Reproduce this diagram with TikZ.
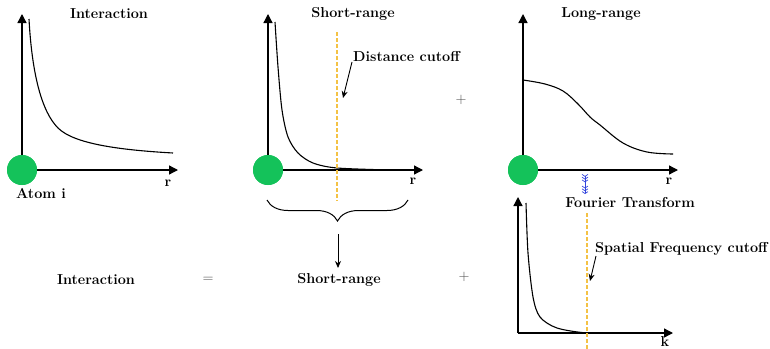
\documentclass[tikz,border=0pt]{standalone}
\usetikzlibrary{arrows.meta,decorations.pathreplacing}
\definecolor{atomgreen}{HTML}{14C25A}
\definecolor{cutorange}{HTML}{F4C245}
\definecolor{ftblue}{HTML}{3344DD}
\tikzset{
  lbl/.style={font=\fontsize{14.4}{16}\selectfont\bfseries, inner sep=0pt},
  op/.style={font=\fontsize{14.4}{16}\selectfont, text=black!70, inner sep=0pt},
  axis/.style={line width=1.3pt, -{Triangle[length=9pt,width=9pt]}},
  atom/.style={circle, fill=atomgreen, minimum size=30pt, inner sep=0pt},
  curve/.style={line width=1.1pt},
  cutline/.style={draw=cutorange, line width=1.2pt, dash pattern=on 4pt off 2pt},
  callout/.style={line width=0.9pt, -{Stealth[length=7pt,width=6pt]}},
}
\begin{document}
\begin{tikzpicture}[x=1pt,y=-1pt]
\useasboundingbox (0,0) rectangle (770,348);
% ---------- Panel 1 ----------
\node[atom] (a1) at (22,170) {};
\coordinate (a1y) at (22,14);
\coordinate (a1x) at (178,170);
\draw[axis] (a1.center) -- (a1y);
\draw[axis] (a1.center) -- (a1x);
\node[atom] at (22,170) {};
\draw[curve] (29,19) .. controls (32,75) and (42,112) .. (58,128)
  .. controls (74,144) and (120,150) .. (173,153);
\node[lbl] (t1) at (109,14) {Interaction};
\node[lbl] (r1) at (168,183) {r};
\node[lbl] (atomi) at (41,193) {Atom i};
% ---------- Panel 2 ----------
\coordinate (a2y) at (268,14);
\coordinate (a2x) at (423,170);
\node[atom] (a2) at (268,170) {};
\draw[axis] (a2.center) -- (a2y);
\draw[axis] (a2.center) -- (a2x);
\node[atom] at (268,170) {};
\draw[curve] plot[smooth, tension=0.5] coordinates {(275,22) (278,67) (282,110) (288,137) (298,153) (313,163) (337,168) (390,170)};
\coordinate (c2t) at (337,32);
\coordinate (c2b) at (337,201);
\draw[cutline] (c2t) -- (c2b);
\node[lbl] (t2) at (353,14) {Short-range};
\node[lbl] (r2) at (413,181) {r};
\node[lbl, anchor=west] (dc) at (353,57) {Distance cutoff};
\coordinate (dcs) at (352,62);
\coordinate (dctip) at (343,98);
\draw[callout] (dcs) -- (dctip);
\node[op] (plus1) at (461,100) {+};
\coordinate (br1) at (267,200);
\coordinate (br2) at (408,200);
\draw[line width=1pt, decorate, decoration={brace, mirror, amplitude=21pt}] (br1) -- (br2);
\coordinate (brt) at (338,234);
\node[lbl] (sr) at (339,280) {Short-range};
\coordinate (srt) at (338,268);
\draw[line width=0.9pt, -{Stealth[length=7pt,width=6pt]}] (brt) -- (srt);
% ---------- Panel 3 ----------
\coordinate (a3y) at (523,14);
\coordinate (a3x) at (678,170);
\node[atom] (a3) at (523,170) {};
\draw[axis] (a3.center) -- (a3y);
\draw[axis] (a3.center) -- (a3x);
\node[atom] at (523,170) {};
\draw[curve] plot[smooth, tension=0.6] coordinates {(523,80) (545,84) (563,91) (578,104) (590,117) (600,125) (623,143) (647,152) (673,154)};
\node[lbl] (t3) at (601,14) {Long-range};
\node[lbl] (r3) at (669,181) {r};
\coordinate (ft1) at (585,174);
\coordinate (ft2) at (585,194);
\node[lbl] (ft) at (630,202) {Fourier Transform};
\draw[ftblue, line width=0.7pt,
  {Straight Barb[length=2pt,width=6pt,reversed]Straight Barb[length=2pt,width=6pt,reversed]Straight Barb[length=2pt,width=6pt,reversed]}-{Straight Barb[length=2pt,width=6pt]Straight Barb[length=2pt,width=6pt]Straight Barb[length=2pt,width=6pt]}]
  (ft1) -- (ft2);
% ---------- Panel 4 ----------
\coordinate (o4) at (518,333);
\coordinate (a4y) at (518,197);
\coordinate (a4x) at (673,333);
\draw[axis] (o4) -- (a4y);
\draw[axis] (o4) -- (a4x);
\draw[curve] plot[smooth, tension=0.5] coordinates {(526,203) (528,253) (533,297) (540,317) (557,328) (587,333) (620,333)};
\coordinate (c4t) at (587,213);
\coordinate (c4b) at (587,350);
\draw[cutline] (c4t) -- (c4b);
\node[lbl, anchor=west] (sfc) at (595,249) {Spatial Frequency cutoff};
\coordinate (sfcs) at (596,256);
\coordinate (sfctip) at (590,281);
\draw[callout] (sfcs) -- (sfctip);
\node[lbl] (k) at (665,341) {k};
% ---------- bottom equation ----------
\node[lbl] (ib) at (96,280) {Interaction};
\node[op] (eq) at (208,280) {=};
\node[op] (plus2) at (464,277) {+};
\end{tikzpicture}
\end{document}
